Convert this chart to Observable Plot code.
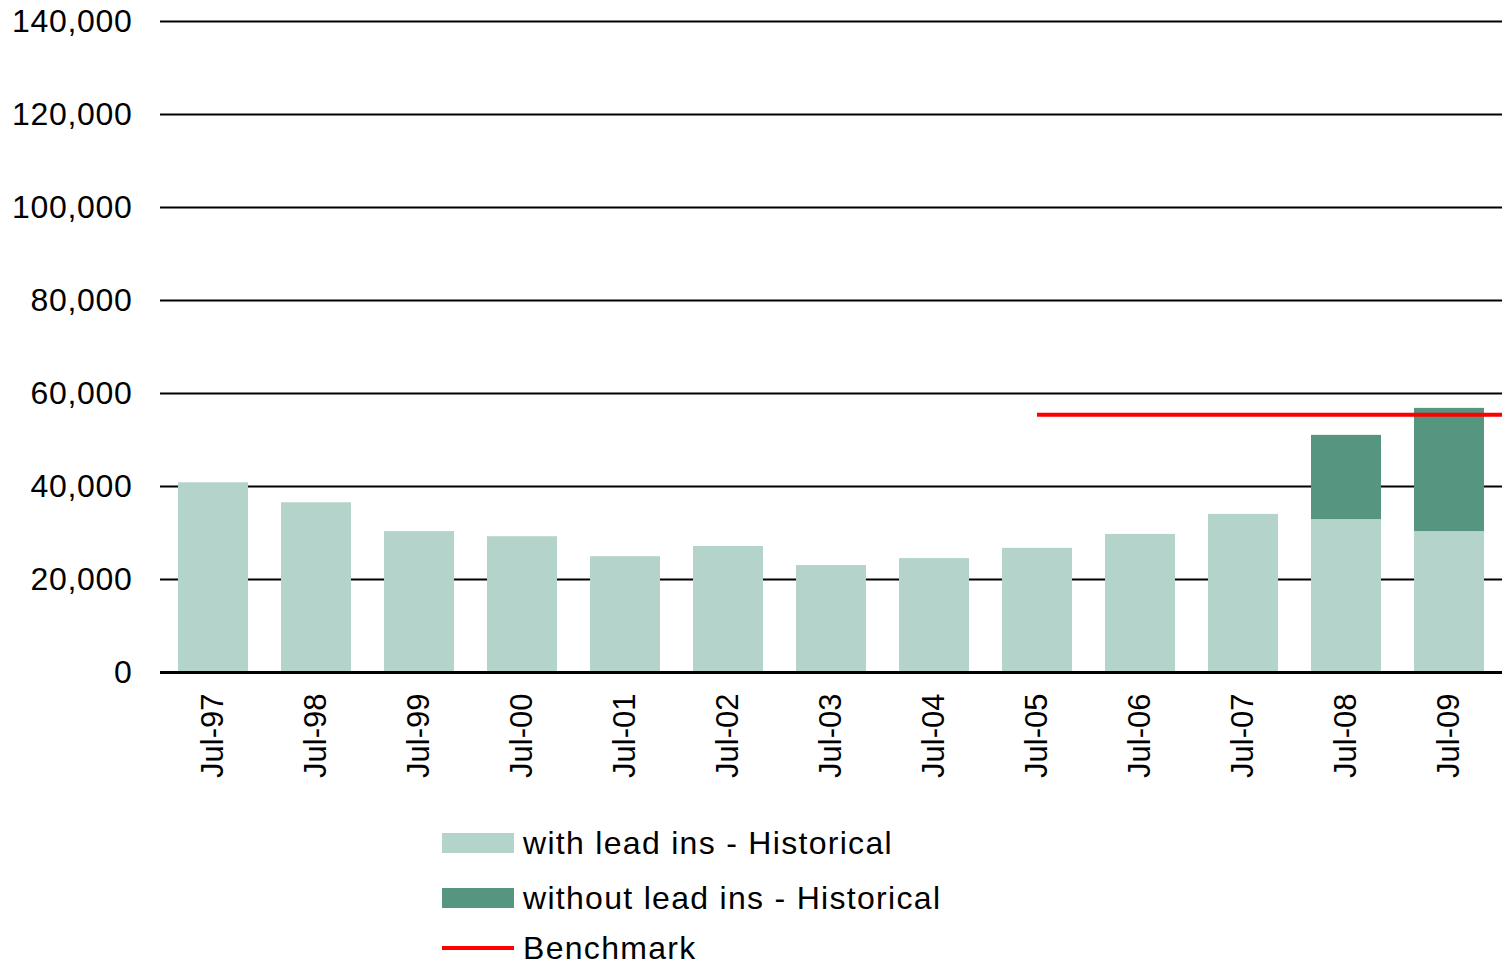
<!DOCTYPE html>
<html>
<head>
<meta charset="utf-8">
<script src="https://cdn.jsdelivr.net/npm/d3@7"></script>
<script src="https://cdn.jsdelivr.net/npm/@observablehq/plot@0.6"></script>
<style>
  html, body { margin: 0; padding: 0; background: #ffffff; }
  body { width: 1502px; height: 966px; overflow: hidden; font-family: "Liberation Sans", Arial, sans-serif; }
  #chart svg [aria-label="y-axis tick label"] text { letter-spacing: 0.7px; }
  .legend { margin-top: 15px; padding-left: 442px; }
  .legend .row { display: flex; align-items: center; height: 55px; }
  .legend .row.last { height: 46px; }
  .legend .sw { width: 72px; height: 20px; margin-right: 9px; }
  .legend .ln { width: 72px; height: 4px; margin-right: 9px; background: #ff0000; }
  .legend .lab { font-size: 32px; line-height: 28px; letter-spacing: 1.3px; color: #000; white-space: nowrap; }
</style>
</head>
<body>
<div id="chart"></div>
<div class="legend" id="legend"></div>
<script>
const categories = ["Jul-97","Jul-98","Jul-99","Jul-00","Jul-01","Jul-02","Jul-03","Jul-04","Jul-05","Jul-06","Jul-07","Jul-08","Jul-09"];
const withLeadIns = [40800, 36500, 30300, 29200, 24900, 27100, 23000, 24500, 26700, 29700, 34000, 32900, 30300];
const withoutLeadIns = [0, 0, 0, 0, 0, 0, 0, 0, 0, 0, 0, 18100, 26500];
const seriesNames = ["with lead ins - Historical", "without lead ins - Historical"];
const seriesColors = ["#b4d3ca", "#56957f"];
const benchmarkName = "Benchmark";
const benchmarkValue = 55300;
const benchmarkStart = "Jul-05";
const yTicks = [0, 20000, 40000, 60000, 80000, 100000, 120000, 140000];

const rows = [];
categories.forEach((c, i) => {
  rows.push({cat: c, series: seriesNames[0], value: withLeadIns[i]});
  rows.push({cat: c, series: seriesNames[1], value: withoutLeadIns[i]});
});

function benchmarkMark(index, scales, values, dimensions) {
  const x = scales.x, y = scales.y;
  const bw = typeof x.bandwidth === "function" ? x.bandwidth() : (x.bandwidth || 0);
  const x1 = x(benchmarkStart) + bw / 2;
  const x2 = dimensions.width - dimensions.marginRight;
  const yy = y(benchmarkValue);
  const line = document.createElementNS("http://www.w3.org/2000/svg", "line");
  line.setAttribute("x1", x1);
  line.setAttribute("x2", x2);
  line.setAttribute("y1", yy);
  line.setAttribute("y2", yy);
  line.setAttribute("stroke", "#ff0000");
  line.setAttribute("stroke-width", 4);
  const g = document.createElementNS("http://www.w3.org/2000/svg", "g");
  g.setAttribute("aria-label", "benchmark");
  g.appendChild(line);
  return g;
}

const chart = Plot.plot({
  width: 1502,
  height: 800,
  marginLeft: 160,
  marginRight: 0,
  marginTop: 21,
  marginBottom: 128,
  style: {fontFamily: "'Liberation Sans', Arial, sans-serif", fontSize: "32px", color: "#000", background: "#fff"},
  x: {domain: categories, paddingInner: 0.32, paddingOuter: 0.14, label: null},
  y: {domain: [0, 140000], label: null},
  color: {domain: seriesNames, range: seriesColors},
  marks: [
    Plot.ruleY(yTicks, {stroke: "#000", strokeWidth: 2}),
    Plot.barY(rows, {x: "cat", y: "value", fill: "series"}),
    Plot.ruleY([0], {stroke: "#000", strokeWidth: 3}),
    benchmarkMark,
    Plot.axisY({ticks: yTicks, tickFormat: d3.format(","), tickSize: 0, tickPadding: 28, fontSize: 32, label: null}),
    Plot.axisX({tickRotate: -90, tickSize: 0, tickPadding: 21, fontSize: 31, label: null})
  ]
});
document.getElementById("chart").appendChild(chart);

const legend = document.getElementById("legend");
seriesNames.forEach((name, i) => {
  const row = document.createElement("div");
  row.className = "row";
  row.innerHTML = `<div class="sw" style="background:${seriesColors[i]}"></div><div class="lab">${name}</div>`;
  legend.appendChild(row);
});
const brow = document.createElement("div");
brow.className = "row last";
brow.innerHTML = `<div class="ln"></div><div class="lab">${benchmarkName}</div>`;
legend.appendChild(brow);
</script>
</body>
</html>
